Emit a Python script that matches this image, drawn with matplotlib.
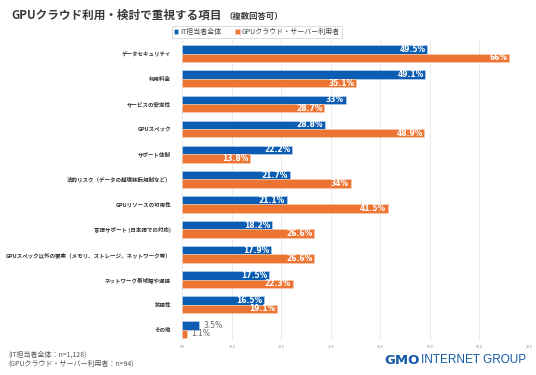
import matplotlib
matplotlib.use("Agg")
import matplotlib.pyplot as plt
import numpy as np

plt.rcParams['font.family'] = ['Noto Sans CJK JP', 'DejaVu Sans']

categories = ["データセキュリティ", "利用料金", "サービスの安定性", "GPUスペック", "サポート体制",
              "法的リスク（データの越境移転規制など）", "GPUリソースの可用性", "言語サポート (日本語での対応)",
              "GPUスペック以外の要素（メモリ、ストレージ、ネットワーク等）", "ネットワーク帯域幅や遅延",
              "拡張性", "その他"]
it_all = [49.5, 49.1, 33, 28.8, 22.2, 21.7, 21.1, 18.2, 17.9, 17.5, 16.5, 3.5]
gpu_users = [66, 35.1, 28.7, 48.9, 13.8, 34, 41.5, 26.6, 26.6, 22.3, 19.1, 1.1]
series_names = ["IT担当者全体", "GPUクラウド・サーバー利用者"]
xticks = [0, 10, 20, 30, 40, 50, 60, 70]

blue = "#0b5db4"
orange = "#ec7534"

fig = plt.figure(figsize=(5.36, 3.75), dpi=100)
ax = fig.add_axes([182/536, 1-341/375, (529-182)/536, (341-40)/375])

y = np.arange(len(categories))
h = 0.335
b1 = ax.barh(y - h/2, it_all, height=h, color=blue, edgecolor="#c9d9ee", linewidth=0.4, label=series_names[0], zorder=3)
b2 = ax.barh(y + h/2, gpu_users, height=h, color=orange, edgecolor="#f6cdb5", linewidth=0.4, label=series_names[1], zorder=3)

for bars, vals in ((b1, it_all), (b2, gpu_users)):
    for bar, v in zip(bars, vals):
        txt = f"{v:g}%"
        cy = bar.get_y() + bar.get_height()/2
        if v < 8:
            ax.text(v + 0.8, cy, txt, ha="left", va="center", fontsize=5.5, color="#666666", family="DejaVu Sans", zorder=4)
        else:
            ax.text(v - 0.3, cy, txt, ha="right", va="center", fontsize=5.5, color="white", fontweight="bold", family="DejaVu Sans", zorder=4)

ax.set_xlim(0, 70)
ax.set_ylim(11.45, -0.55)
ax.set_xticks(xticks)
ax.set_xticklabels([f"{t:.1f}" for t in xticks], fontsize=2.5, color="#888888")
ax.set_yticks(y)
ax.set_yticklabels(categories, fontsize=3.95, color="#333333", fontweight="bold")
ax.tick_params(axis="y", length=0, pad=8)
ax.tick_params(axis="x", length=0, pad=3)
ax.grid(axis="x", color="#e8e8e8", linewidth=0.6, zorder=0)
for s in ax.spines.values():
    s.set_visible(False)

title = fig.text(11/536, 1-15.5/375, "GPUクラウド利用・検討で重視する項目", fontsize=8.8, fontweight="bold", color="#3a3a3a", va="center", ha="left")
r = fig.canvas.get_renderer()
w = title.get_window_extent(r).width
title.set_fontsize(8.8 * (211 / w))
fig.text(224/536, 1-16/375, "（複数回答可）", fontsize=6.0, fontweight="bold", color="#3a3a3a", va="center", ha="left")

leg = fig.legend(handles=[b1, b2], loc="center", bbox_to_anchor=(257/536, 1-32/375), ncol=2,
                 fontsize=5, frameon=True, handlelength=0.6, handleheight=0.6, handletextpad=0.3,
                 columnspacing=2.0, borderpad=0.35, fancybox=False)
leg.get_frame().set_edgecolor("#cccccc")
leg.get_frame().set_linewidth(0.6)
for t in leg.get_texts():
    t.set_color("#444444")

fig.text(8/536, 1-355/375, "(IT担当者全体：n=1,128)", fontsize=5.0, color="#555555", va="center", ha="left")
fig.text(8/536, 1-364/375, "(GPUクラウド・サーバー利用者：n=94)", fontsize=5.0, color="#555555", va="center", ha="left")

fig.text(384/536, 1-360/375, "GMO", fontsize=9.5, fontweight="heavy", color="#1458a8", va="center", ha="left", family="DejaVu Sans")
fig.text(421/536, 1-360/375, "INTERNET GROUP", fontsize=8.5, fontweight="light", color="#1458a8", va="center", ha="left", family="Liberation Sans")

fig.savefig("out.png", dpi=100)
